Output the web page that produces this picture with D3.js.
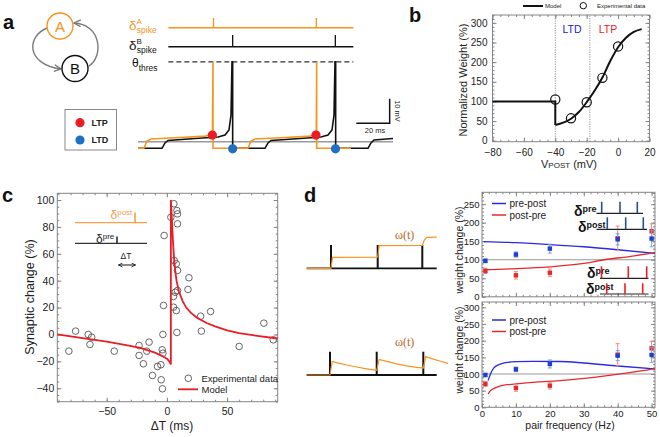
<!DOCTYPE html>
<html><head><meta charset="utf-8">
<script src="https://cdn.jsdelivr.net/npm/d3@7/dist/d3.min.js"></script>
<style>html,body{margin:0;padding:0;background:#fff}svg{display:block}</style>
</head><body>
<svg id="fig" width="660" height="437"></svg>
<script>
// ===================== DATA =====================
// panel a : schematic membrane traces [time (ms), voltage (mV)]
const aSpikesA = [45.3, 107.0];
const aSpikesB = [56.8, 118.4];
const aTraceA = [[0,-72.7],[3.6,-72.7],[5.4,-69.7],[7.8,-68.9],[25.2,-68.3],[40.2,-67.7],[43.8,-67.2],[44.7,-65.2],[45,-37.3],[45,-72.7],[66,-72.7],[67.8,-69.7],[70.2,-68.9],[88.2,-68.3],[103.2,-67.7],[106.2,-67.2],[107,-65.2],[107.2,-37.3],[107.2,-72.7],[127.8,-72.7]];
const aTraceB = [[0,-72.7],[14.4,-72.7],[16.2,-70.5],[18,-69.5],[34.2,-68.7],[48,-68.1],[52.2,-67.3],[54.6,-65.2],[55.8,-59.1],[56.4,-37.3],[56.8,-37.3],[56.8,-72.7],[76.2,-72.7],[78,-70.5],[79.8,-69.5],[97.2,-68.7],[109.8,-68.1],[114,-67.3],[116.4,-65.2],[117.6,-59.1],[118.2,-37.3],[118.6,-37.3],[118.6,-72.7],[138,-72.7],[139.8,-70.5],[141.6,-69.3],[153,-68.7]];
const aLTP = [[44.6,-67.3],[106.8,-67.3]];
const aLTD = [[56.8,-72.9],[118.5,-72.9]];
const aRest = -70, aThres = -37.3;

// panel b : weight vs postsynaptic voltage
const bModelStep = [[-80,100],[-40,100],[-40,40]];
const bModelCurve = [[-40,40],[-35,46],[-30,56],[-25,73],[-20,98],[-15,127],[-10,161],[-5,203],[0,238],[5,262],[10,277],[15,284]];
const bExpV = [-40,-30,-20,-10,0];
const bExpW = [105,57,98,160,240];
const bXTicks = [-80,-60,-40,-20,0,20];
const bYTicks = [0,50,100,150,200,250,300];
const bThresholds = [-40,-18];

// panel c : STDP window
const cExpDT = [-81.4,-75.8,-65.3,-63.9,-62.5,-43.7,-23.1,-23.1,-19.5,-16.7,-14.8,-12,-7.8,-5,-4.75,-3.9,-3.3,-3.7,-3.3,-2.8,-2.3,3.3,5.8,8.3,8.8,8.8,6.1,7.8,8.8,5.5,6.9,8.8,5.5,7.8,8.3,18.3,17.5,28,28.6,36.3,60,80.5,88.3];
const cExpChange = [-12.4,2.5,0,-7.4,-2,-12.4,-8.2,-15.6,-21.8,-12.4,-5.7,-30.5,-23.8,-22.5,-33.7,-11.4,-13.9,-40.4,0,21.6,73.6,87.2,97.2,92.2,89.7,82.3,55,52.6,47.6,28.3,31.4,32.7,20.3,17.8,1.5,42.2,33.5,13.6,2.5,17.1,-8.9,8.4,-4];
const cModel = [[-91,0],[-70,-2.7],[-50,-5.4],[-35,-7.8],[-22,-10],[-15,-12],[-10,-13.5],[-5,-15.5],[0,-18],[2,-20],[3.3,-22.3],[3.3,100],[4,88],[5,70],[6,56],[7,47],[8,40],[10,32],[13,25],[16,20],[20,16],[25,12.5],[33,8.5],[40,6],[50,3],[60,1],[75,-1],[92,-3]];
const cXTicks = [-50,0,50];
const cYTicks = [-40,-20,0,20,40,60,80,100];

// panel d : frequency dependence
const dFreq = [1,10,20,40,50];
const dPrePostExp = [97,114,130,155,157];
const dPrePostErr = [5,7,12,15,22];
const dPostPreExp = [70,58,65,158,177];
const dPostPreErr = [7,10,10,33,20];
const dTopPrePost = [[0.5,149],[10,146],[20,141],[30,135],[40,127],[51,117]];
const dTopPostPre = [[0.5,73],[10,76],[20,81],[30,90],[36,100],[43,108],[51,119]];
const dBotPrePost = [[1.8,80],[2.5,100],[3.5,118],[5,128],[7,134],[10,137],[15,138],[23,137.5],[30,133],[40,124],[51,115]];
const dBotPostPre = [[1.8,40],[2.5,50],[3.6,57],[6,66],[10,70],[13,73],[23,80],[33,90],[43,103],[51,116]];
const dXTicks = [0,10,20,30,40,50];
const dTopYTicks = [0,50,100,150,200,250];
const dBotYTicks = [0,50,100,150,200,250,300];
// panel d traces : spike times and weight omega(t)
const dSpikes1 = [24.3,71,115.6];
const dOmega1 = [[0,0],[24.3,0],[25.8,0.275],[71,0.28],[72.5,0.565],[115.6,0.57],[117.5,0.7],[120,0.775],[130,0.78]];
const dSpikes2 = [23.3,70,116.6];
const dOmega2 = [[0,0],[23.3,0],[25.5,0.34],[30,0.31],[40,0.25],[50,0.2],[60,0.155],[70,0.115],[72.5,0.39],[80,0.34],[90,0.28],[100,0.23],[110,0.19],[116.6,0.17],[119,0.46],[125,0.41],[133,0.35],[141.3,0.29]];

// ===================== DRAWING =====================
const FONT = '"Liberation Sans", Arial, Helvetica, sans-serif';
const ORANGE = '#f7941d', RED = '#ec1c24';
const svg = d3.select('#fig').style('font-family', FONT);
const defs = svg.append('defs');

function txt(g, x, y, s, o = {}) {
  const t = g.append('text').attr('x', x).attr('y', y).text(s)
    .style('font-size', (o.fs || 10) + 'px').attr('fill', o.fill || '#222')
    .attr('text-anchor', o.anchor || 'start');
  if (o.bold) t.style('font-weight', 'bold');
  if (o.rot) t.attr('transform', `rotate(${o.rot},${x},${y})`);
  if (o.family) t.style('font-family', o.family);
  return t;
}
const fmtN = d => (d < 0 ? '\u2212' : '') + Math.abs(d);

function boxAxes(g, x, y, o) {
  const [xa, xb] = x.range(), [ya, yb] = y.range();
  const c = o.color || '#858585';
  g.append('rect').attr('x', xa).attr('y', yb).attr('width', xb - xa).attr('height', ya - yb)
    .attr('fill', 'none').attr('stroke', c).attr('stroke-width', 1);
  const mk = (fn, sc, vals, size, tx, ty, fmt, pad) => {
    const a = fn(sc).tickValues(vals).tickSizeInner(-size).tickSizeOuter(0).tickPadding(pad)
      .tickFormat(fmt || (() => ''));
    const gg = g.append('g').attr('transform', `translate(${tx},${ty})`).call(a);
    gg.select('.domain').remove();
    gg.selectAll('.tick line').attr('stroke', c);
    gg.selectAll('.tick text').attr('fill', '#222').style('font-size', o.fs + 'px').style('font-family', FONT);
  };
  const yp = o.pad || 3, xp = o.xpad || yp;
  mk(d3.axisLeft, y, o.yTicks, o.maj, xa, 0, fmtN, yp);
  mk(d3.axisLeft, y, o.yMinor, o.min, xa, 0, null, yp);
  mk(d3.axisRight, y, o.yTicks, o.maj, xb, 0, null, yp);
  mk(d3.axisRight, y, o.yMinor, o.min, xb, 0, null, yp);
  mk(d3.axisBottom, x, o.xTicks, o.maj, 0, ya, o.noXLabels ? null : fmtN, xp);
  mk(d3.axisBottom, x, o.xMinor, o.min, 0, ya, null, xp);
  mk(d3.axisTop, x, o.xTicks, o.maj, 0, yb, null, xp);
  mk(d3.axisTop, x, o.xMinor, o.min, 0, yb, null, xp);
}

// ---------- panel letters ----------
txt(svg, 3, 29, 'a', {fs: 20, bold: true, fill: '#111'});
txt(svg, 409, 22, 'b', {fs: 20, bold: true, fill: '#111'});
txt(svg, 2, 202, 'c', {fs: 20, bold: true, fill: '#111'});
txt(svg, 304, 202, 'd', {fs: 20, bold: true, fill: '#111'});

// ---------- panel a ----------
{
  const g = svg.append('g');
  defs.append('marker').attr('id', 'arr').attr('viewBox', '0 0 10 10').attr('refX', 9).attr('refY', 5)
    .attr('markerWidth', 6).attr('markerHeight', 6).attr('orient', 'auto')
    .append('path').attr('d', 'M1,1 L9,5 L1,9').attr('fill', 'none').attr('stroke', '#777').attr('stroke-width', 1.6);
  g.append('path').attr('d', 'M47,28 C27,36 25,64 61,69').attr('fill', 'none').attr('stroke', '#7a7a7a').attr('stroke-width', 1.4).attr('marker-end', 'url(#arr)');
  g.append('path').attr('d', 'M89,66 C104,56 101,24 74,23').attr('fill', 'none').attr('stroke', '#7a7a7a').attr('stroke-width', 1.4).attr('marker-end', 'url(#arr)');
  g.append('circle').attr('cx', 60).attr('cy', 26).attr('r', 13).attr('fill', '#fff').attr('stroke', ORANGE).attr('stroke-width', 1.4);
  g.append('circle').attr('cx', 75).attr('cy', 68.5).attr('r', 13).attr('fill', '#fff').attr('stroke', '#111').attr('stroke-width', 1.4);
  txt(g, 60, 31.5, 'A', {fs: 15, fill: ORANGE, anchor: 'middle'});
  txt(g, 75, 74, 'B', {fs: 15, fill: '#111', anchor: 'middle'});
  g.append('rect').attr('x', 65).attr('y', 109.5).attr('width', 51.5).attr('height', 40.5).attr('fill', '#fff').attr('stroke', '#888').attr('stroke-width', 1);
  g.append('circle').attr('cx', 80).attr('cy', 122.7).attr('r', 4.6).attr('fill', RED);
  g.append('circle').attr('cx', 80).attr('cy', 140).attr('r', 4.6).attr('fill', '#1f6fc5');
  txt(g, 91.5, 126, 'LTP', {fs: 9, bold: true, fill: '#222'});
  txt(g, 91.5, 143.3, 'LTD', {fs: 9, bold: true, fill: '#222'});

  const xA = d3.scaleLinear().domain([0, 153]).range([138, 393]);
  const yA = d3.scaleLinear().domain([-75, -35]).range([153.9, 56.3]);
  const line = d3.line().x(d => xA(d[0])).y(d => yA(d[1]));
  const la = txt(g, 129, 30, '\u03B4', {fs: 13.5, fill: ORANGE});
  la.append('tspan').attr('dy', -6).style('font-size', '8px').text('A');
  la.append('tspan').attr('dx', -5).attr('dy', 9).style('font-size', '8.5px').text('spike');
  const lb = txt(g, 129, 50, '\u03B4', {fs: 13.5, fill: '#111'});
  lb.append('tspan').attr('dy', -6).style('font-size', '8px').text('B');
  lb.append('tspan').attr('dx', -5).attr('dy', 9).style('font-size', '8.5px').text('spike');
  const lt = txt(g, 132, 66.5, '\u03B8', {fs: 12, fill: '#111'});
  lt.append('tspan').attr('dy', 4).style('font-size', '8.5px').text('thres');
  const r0 = 18.2, r1 = 129.2;
  g.append('line').attr('x1', xA(r0)).attr('x2', xA(r1)).attr('y1', 27.7).attr('y2', 27.7).attr('stroke', ORANGE).attr('stroke-width', 1.6);
  g.selectAll('.spA').data(aSpikesA).enter().append('line').attr('x1', d => xA(d)).attr('x2', d => xA(d)).attr('y1', 18).attr('y2', 27.7).attr('stroke', ORANGE).attr('stroke-width', 1.3);
  g.append('line').attr('x1', xA(r0)).attr('x2', xA(r1)).attr('y1', 46.7).attr('y2', 46.7).attr('stroke', '#111').attr('stroke-width', 1.6);
  g.selectAll('.spB').data(aSpikesB).enter().append('line').attr('x1', d => xA(d)).attr('x2', d => xA(d)).attr('y1', 35).attr('y2', 46.7).attr('stroke', '#111').attr('stroke-width', 1.3);
  g.append('line').attr('x1', xA(r0)).attr('x2', xA(r1)).attr('y1', yA(aThres)).attr('y2', yA(aThres)).attr('stroke', '#333').attr('stroke-width', 1.3).attr('stroke-dasharray', '5,3');
  g.append('line').attr('x1', xA(0)).attr('x2', xA(153)).attr('y1', yA(aRest)).attr('y2', yA(aRest)).attr('stroke', '#9a9a9a').attr('stroke-width', 1.4);
  g.append('path').attr('d', line(aTraceB)).attr('fill', 'none').attr('stroke', '#111').attr('stroke-width', 1.6);
  g.append('path').attr('d', line(aTraceA)).attr('fill', 'none').attr('stroke', ORANGE).attr('stroke-width', 1.6);
  g.selectAll('.ltp').data(aLTP).enter().append('circle').attr('cx', d => xA(d[0])).attr('cy', d => yA(d[1])).attr('r', 4.6).attr('fill', RED);
  g.selectAll('.ltd').data(aLTD).enter().append('circle').attr('cx', d => xA(d[0])).attr('cy', d => yA(d[1])).attr('r', 4.6).attr('fill', '#1f6fc5');
  const sbx = xA(151), sby = yA(-62.4);
  g.append('path').attr('d', `M${sbx - (xA(20) - xA(0))},${sby} H${sbx} V${sby - (yA(-75) - yA(-65))}`).attr('fill', 'none').attr('stroke', '#111').attr('stroke-width', 1.5);
  txt(g, 375, 133, '20 ms', {fs: 7.5, anchor: 'middle'});
  txt(g, 394.5, 111, '10 mV', {fs: 7.5, anchor: 'middle', rot: 90});
}

// ---------- panel b ----------
{
  const g = svg.append('g');
  const x = d3.scaleLinear().domain([-80, 20]).range([492.5, 649.5]);
  const y = d3.scaleLinear().domain([-2.5, 320]).range([141.7, 15]);
  bThresholds.forEach(v => g.append('line').attr('x1', x(v)).attr('x2', x(v)).attr('y1', y(-2.5)).attr('y2', y(320))
    .attr('stroke', '#888').attr('stroke-width', 0.9).attr('stroke-dasharray', '1.2,1.2'));
  boxAxes(g, x, y, {yTicks: bYTicks, yMinor: d3.range(0, 321, 10), xTicks: bXTicks, xMinor: d3.range(-80, 21, 5), maj: 4, min: 2, fs: 10, pad: 5, xpad: 7});
  const ln = d3.line().x(d => x(d[0])).y(d => y(d[1]));
  g.append('path').attr('d', ln(bModelStep)).attr('fill', 'none').attr('stroke', '#111').attr('stroke-width', 2);
  g.append('path').attr('d', ln.curve(d3.curveMonotoneX)(bModelCurve)).attr('fill', 'none').attr('stroke', '#111').attr('stroke-width', 2);
  g.selectAll('.be').data(bExpV).enter().append('circle').attr('cx', d => x(d)).attr('cy', (d, i) => y(bExpW[i])).attr('r', 4.6)
    .attr('fill', 'none').attr('stroke', '#111').attr('stroke-width', 1.2);
  txt(g, 572, 33, 'LTD', {fs: 10.5, fill: '#2424c8', anchor: 'middle'});
  txt(g, 608, 33, 'LTP', {fs: 10.5, fill: '#e8202a', anchor: 'middle'});
  txt(g, 467, 80, 'Normalized Weight (%)', {fs: 11, anchor: 'middle', rot: -90});
  const vl = txt(g, 569, 168, 'V', {fs: 11, anchor: 'middle'});
  vl.append('tspan').style('font-size', '8px').text('POST');
  vl.append('tspan').text(' (mV)');
  g.append('line').attr('x1', 523).attr('x2', 543).attr('y1', 6).attr('y2', 6).attr('stroke', '#111').attr('stroke-width', 2);
  txt(g, 545, 8, 'Model', {fs: 6});
  g.append('circle').attr('cx', 583.3).attr('cy', 5.7).attr('r', 3.2).attr('fill', 'none').attr('stroke', '#111').attr('stroke-width', 1);
  txt(g, 597, 8, 'Experimental data', {fs: 6});
}

// ---------- panel c ----------
{
  const g = svg.append('g');
  const x = d3.scaleLinear().domain([-91, 92]).range([57.3, 277.7]);
  const y = d3.scaleLinear().domain([-50, 105]).range([401.7, 193.3]);
  boxAxes(g, x, y, {yTicks: cYTicks, yMinor: d3.range(-50, 106, 5), xTicks: cXTicks, xMinor: d3.range(-90, 91, 10), maj: 4, min: 2, fs: 10.5, pad: 3, xpad: 6});
  g.selectAll('.ce').data(cExpDT).enter().append('circle').attr('cx', d => x(d)).attr('cy', (d, i) => y(cExpChange[i])).attr('r', 3.3)
    .attr('fill', 'none').attr('stroke', '#555').attr('stroke-width', 0.9);
  g.append('path').attr('d', d3.line().x(d => x(d[0])).y(d => y(d[1]))(cModel)).attr('fill', 'none').attr('stroke', '#ea1c24').attr('stroke-width', 1.8);
  txt(g, 34, 297, 'Synaptic change (%)', {fs: 12.5, anchor: 'middle', rot: -90});
  txt(g, 172, 430, '\u0394T (ms)', {fs: 12, anchor: 'middle'});
  g.append('line').attr('x1', 75).attr('x2', 147).attr('y1', 222.7).attr('y2', 222.7).attr('stroke', '#f5a04a').attr('stroke-width', 1.3);
  g.append('line').attr('x1', 135).attr('x2', 135).attr('y1', 212.5).attr('y2', 222.7).attr('stroke', ORANGE).attr('stroke-width', 1.4);
  const tp = txt(g, 110.5, 218.5, '\u03B4', {fs: 12, fill: '#f5a04a'});
  tp.append('tspan').attr('dy', -4).style('font-size', '8px').text('post');
  g.append('line').attr('x1', 75).attr('x2', 147).attr('y1', 243.3).attr('y2', 243.3).attr('stroke', '#333').attr('stroke-width', 1.3);
  g.append('line').attr('x1', 117).attr('x2', 117).attr('y1', 236.5).attr('y2', 243.3).attr('stroke', '#111').attr('stroke-width', 1.4);
  const tq = txt(g, 96, 242.5, '\u03B4', {fs: 12, fill: '#222'});
  tq.append('tspan').attr('dy', -4).style('font-size', '8px').text('pre');
  txt(g, 126, 258.5, '\u0394T', {fs: 8.5, anchor: 'middle'});
  defs.append('marker').attr('id', 'arr2').attr('viewBox', '0 0 10 10').attr('refX', 9).attr('refY', 5)
    .attr('markerWidth', 5).attr('markerHeight', 5).attr('orient', 'auto-start-reverse')
    .append('path').attr('d', 'M1,1 L9,5 L1,9').attr('fill', 'none').attr('stroke', '#111').attr('stroke-width', 1.6);
  g.append('line').attr('x1', 118.5).attr('x2', 135.5).attr('y1', 265).attr('y2', 265).attr('stroke', '#111').attr('stroke-width', 1)
    .attr('marker-start', 'url(#arr2)').attr('marker-end', 'url(#arr2)');
  g.append('circle').attr('cx', 188.3).attr('cy', 378.3).attr('r', 3.3).attr('fill', 'none').attr('stroke', '#555').attr('stroke-width', 0.9);
  txt(g, 201.5, 381.5, 'Experimental data', {fs: 9.5});
  g.append('line').attr('x1', 178).attr('x2', 198).attr('y1', 389.3).attr('y2', 389.3).attr('stroke', '#ea1c24').attr('stroke-width', 1.8);
  txt(g, 201.5, 392.8, 'Model', {fs: 9.5});
}

// ---------- panel d ----------
{
  const g = svg.append('g');
  const x = d3.scaleLinear().domain([0, 51]).range([482, 655]);
  const yT = d3.scaleLinear().domain([0, 282]).range([296.8, 192.3]);
  const yB = d3.scaleLinear().domain([0, 316]).range([407.3, 302]);
  const PP = '#2a2ae0', PR = '#e42a2a';
  [[yT, dTopYTicks, dTopPrePost, dTopPostPre, true, 282, 207], [yB, dBotYTicks, dBotPrePost, dBotPostPre, false, 316, 323.5]].forEach(([y, yt, pp, pr, top, ymax, legY]) => {
    g.append('line').attr('x1', x(0)).attr('x2', x(51)).attr('y1', y(100)).attr('y2', y(100)).attr('stroke', '#999').attr('stroke-width', 1.2);
    boxAxes(g, x, y, {yTicks: yt, yMinor: d3.range(0, ymax, 10), xTicks: dXTicks, xMinor: d3.range(0, 51, 2), maj: 4, min: 2, fs: 9.5, pad: 2.5, xpad: 3, noXLabels: top});
    const ln = d3.line().curve(d3.curveMonotoneX).x(d => x(d[0])).y(d => y(d[1]));
    g.append('path').attr('d', ln(pp)).attr('fill', 'none').attr('stroke', PP).attr('stroke-width', 1.3);
    g.append('path').attr('d', ln(pr)).attr('fill', 'none').attr('stroke', PR).attr('stroke-width', 1.3);
    [[dPostPreExp, dPostPreErr, PR, '#ef8a8a'], [dPrePostExp, dPrePostErr, '#1f3fd0', '#7f9be0']].forEach(([v, e, col, ecol]) => {
      const eg = g.append('g');
      dFreq.forEach((f, i) => {
        const cx = x(f), y0 = y(v[i] - e[i]), y1 = y(v[i] + e[i]);
        eg.append('line').attr('x1', cx).attr('x2', cx).attr('y1', y0).attr('y2', y1).attr('stroke', ecol).attr('stroke-width', 1);
        eg.append('line').attr('x1', cx - 2).attr('x2', cx + 2).attr('y1', y0).attr('y2', y0).attr('stroke', ecol).attr('stroke-width', 1);
        eg.append('line').attr('x1', cx - 2).attr('x2', cx + 2).attr('y1', y1).attr('y2', y1).attr('stroke', ecol).attr('stroke-width', 1);
        eg.append('rect').attr('x', cx - 2.2).attr('y', y(v[i]) - 2.2).attr('width', 4.4).attr('height', 4.4).attr('fill', col);
      });
    });
    g.append('line').attr('x1', 492).attr('x2', 506).attr('y1', legY - 3.5).attr('y2', legY - 3.5).attr('stroke', PP).attr('stroke-width', 1.5);
    txt(g, 509.5, legY, 'pre-post', {fs: 10});
    g.append('line').attr('x1', 492).attr('x2', 506).attr('y1', legY + 8).attr('y2', legY + 8).attr('stroke', PR).attr('stroke-width', 1.5);
    txt(g, 509.5, legY + 11.5, 'post-pre', {fs: 10});
  });
  txt(g, 463, 250, 'weight change (%)', {fs: 10.5, anchor: 'middle', rot: -90});
  txt(g, 463, 350, 'weight change (%)', {fs: 10.5, anchor: 'middle', rot: -90});
  txt(g, 570, 429, 'pair frequency (Hz)', {fs: 10.5, anchor: 'middle'});

  function raster(label, lx, ly, x0, x1, by, ticks, th, col) {
    const t = txt(g, lx, ly, '\u03B4', {fs: 14, bold: true, fill: '#111'});
    t.append('tspan').attr('dy', -4).style('font-size', '9px').text(label);
    g.append('line').attr('x1', x0).attr('x2', x1).attr('y1', by).attr('y2', by).attr('stroke', '#222').attr('stroke-width', 1.2);
    ticks.forEach(tx => g.append('line').attr('x1', tx).attr('x2', tx).attr('y1', by - th).attr('y2', by).attr('stroke', col).attr('stroke-width', 1.6));
  }
  raster('pre', 574, 215.5, 596.5, 643, 213.3, [601.7, 620, 637.3], 11.5, '#27508f');
  raster('post', 578, 231.5, 596.5, 647, 229.3, [607.3, 625.7, 643.3], 12, '#27508f');
  raster('pre', 587, 278, 600, 648.5, 278.3, [601.5, 628.3, 646.7], 12, '#ee1c25');
  raster('post', 586, 294, 600, 648.5, 294, [606.7, 625, 642.7], 10.7, '#ee1c25');

  [[dSpikes1, dOmega1, 268.3, 239], [dSpikes2, dOmega2, 375, 346]].forEach(([sp, om, base, ly]) => {
    const xt = d3.scaleLinear().domain([0, 130]).range([306.7, 436.7]);
    const yw = d3.scaleLinear().domain([0, 1]).range([base, base - 40]);
    g.append('line').attr('x1', xt(0)).attr('x2', xt(130)).attr('y1', base).attr('y2', base).attr('stroke', '#111').attr('stroke-width', 1.8);
    g.selectAll(null).data(sp).enter().append('line').attr('x1', d => xt(d)).attr('x2', d => xt(d)).attr('y1', base - 23.3).attr('y2', base).attr('stroke', '#111').attr('stroke-width', 2);
    g.append('path').attr('d', d3.line().x(d => xt(d[0])).y(d => yw(d[1]))(om)).attr('fill', 'none').attr('stroke', ORANGE).attr('stroke-width', 1.2);
    txt(g, 395, ly, '\u03C9(t)', {fs: 12, fill: '#b8661c', family: '"Liberation Serif", "DejaVu Serif", serif'});
  });
}
</script>
</body></html>
